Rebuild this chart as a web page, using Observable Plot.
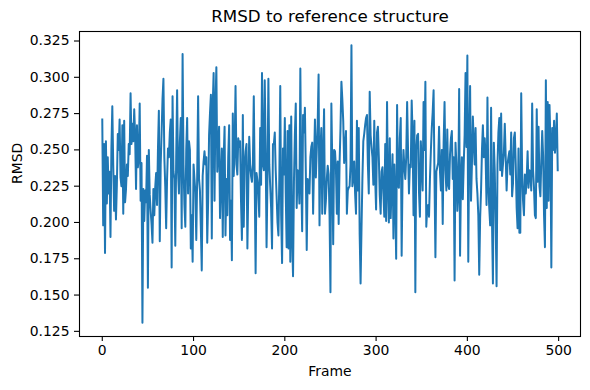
<!DOCTYPE html>
<html><head><meta charset="utf-8">
<script src="https://cdn.jsdelivr.net/npm/d3@7"></script>
<script src="https://cdn.jsdelivr.net/npm/@observablehq/plot@0.6"></script>
<style>body{margin:0;background:#fff;}</style>
</head><body><div id="chart"></div>
<script>
const title = "RMSD to reference structure";
const xLabel = "Frame";
const yLabel = "RMSD";
const xTicks = [0, 100, 200, 300, 400, 500];
const yTicks = [0.125, 0.150, 0.175, 0.200, 0.225, 0.250, 0.275, 0.300, 0.325];
const rmsd = [
0.271,0.198,0.254,0.179,0.256,0.213,0.245,0.220,0.235,0.190,
0.251,0.280,0.240,0.208,0.232,0.202,0.226,0.261,0.250,0.271,
0.231,0.225,0.267,0.206,0.270,0.214,0.223,0.240,0.232,0.254,
0.247,0.289,0.254,0.268,0.256,0.278,0.260,0.223,0.267,0.238,
0.245,0.282,0.215,0.241,0.131,0.223,0.201,0.222,0.214,0.246,
0.155,0.250,0.219,0.208,0.199,0.186,0.223,0.205,0.224,0.234,
0.212,0.250,0.277,0.187,0.240,0.262,0.285,0.299,0.245,0.225,
0.196,0.230,0.251,0.245,0.262,0.271,0.169,0.287,0.235,0.230,
0.184,0.245,0.291,0.235,0.220,0.255,0.272,0.196,0.316,0.240,
0.212,0.197,0.250,0.272,0.220,0.256,0.250,0.182,0.205,0.173,
0.240,0.230,0.221,0.188,0.232,0.287,0.230,0.222,0.196,0.167,
0.232,0.242,0.249,0.240,0.245,0.186,0.215,0.260,0.275,0.288,
0.189,0.280,0.303,0.215,0.280,0.307,0.235,0.250,0.266,0.203,
0.230,0.251,0.190,0.244,0.266,0.191,0.230,0.205,0.245,0.267,
0.188,0.215,0.174,0.275,0.232,0.250,0.294,0.240,0.233,0.258,
0.252,0.256,0.215,0.188,0.274,0.197,0.240,0.249,0.254,0.182,
0.225,0.259,0.240,0.232,0.228,0.240,0.287,0.230,0.165,0.234,
0.229,0.220,0.204,0.265,0.226,0.303,0.240,0.236,0.298,0.250,
0.183,0.230,0.299,0.240,0.225,0.210,0.182,0.254,0.254,0.262,
0.236,0.218,0.200,0.191,0.232,0.294,0.205,0.172,0.251,0.233,
0.272,0.220,0.183,0.263,0.182,0.267,0.173,0.273,0.190,0.163,
0.228,0.260,0.282,0.210,0.236,0.232,0.213,0.306,0.230,0.194,
0.274,0.262,0.279,0.235,0.181,0.230,0.226,0.220,0.245,0.252,
0.255,0.206,0.240,0.271,0.231,0.250,0.268,0.302,0.198,0.250,
0.265,0.206,0.245,0.278,0.206,0.215,0.230,0.239,0.233,0.205,
0.152,0.282,0.240,0.185,0.250,0.249,0.237,0.206,0.242,0.199,
0.241,0.265,0.297,0.285,0.270,0.241,0.252,0.263,0.206,0.222,
0.224,0.225,0.240,0.322,0.225,0.230,0.242,0.220,0.206,0.270,
0.222,0.265,0.192,0.158,0.195,0.230,0.256,0.261,0.267,0.272,
0.274,0.240,0.220,0.290,0.260,0.252,0.245,0.226,0.270,0.230,
0.209,0.262,0.266,0.245,0.219,0.206,0.235,0.238,0.220,0.204,
0.254,0.201,0.283,0.225,0.200,0.258,0.203,0.225,0.247,0.189,
0.240,0.215,0.175,0.281,0.225,0.224,0.258,0.272,0.177,0.232,
0.250,0.238,0.230,0.245,0.283,0.250,0.220,0.240,0.238,0.284,
0.260,0.205,0.270,0.152,0.250,0.260,0.261,0.221,0.204,0.256,
0.240,0.222,0.283,0.250,0.297,0.197,0.210,0.212,0.204,0.230,
0.249,0.265,0.276,0.291,0.230,0.176,0.235,0.238,0.241,0.266,
0.235,0.222,0.250,0.199,0.255,0.283,0.236,0.222,0.264,0.226,
0.223,0.247,0.258,0.263,0.230,0.245,0.160,0.255,0.240,0.208,
0.220,0.292,0.177,0.230,0.245,0.216,0.240,0.260,0.303,0.252,
0.315,0.173,0.255,0.294,0.215,0.240,0.273,0.255,0.240,0.265,
0.230,0.220,0.205,0.164,0.203,0.222,0.250,0.267,0.245,0.258,
0.245,0.212,0.286,0.225,0.210,0.198,0.279,0.200,0.158,0.255,
0.236,0.200,0.156,0.240,0.262,0.272,0.236,0.275,0.232,0.240,
0.248,0.268,0.245,0.222,0.240,0.245,0.249,0.233,0.262,0.218,
0.227,0.258,0.262,0.240,0.210,0.196,0.251,0.193,0.193,0.289,
0.235,0.215,0.205,0.233,0.220,0.230,0.249,0.224,0.236,0.235,
0.222,0.282,0.236,0.224,0.205,0.203,0.278,0.228,0.266,0.225,
0.218,0.242,0.263,0.246,0.205,0.183,0.298,0.210,0.283,0.215,
0.281,0.255,0.169,0.265,0.250,0.270,0.248,0.257,0.275,0.236
];
const frames = rmsd.map((_, i) => i);

// matplotlib-like 5% data margins
const [x0, x1] = d3.extent(frames);
const [y0, y1] = d3.extent(rmsd);
const xm = 0.05 * (x1 - x0), ym = 0.05 * (y1 - y0);

const chart = Plot.plot({
  width: 590,
  height: 390,
  marginLeft: 79,
  marginRight: 10,
  marginTop: 31,
  marginBottom: 54,
  style: {fontFamily: "DejaVu Sans", fontSize: "13.9px", background: "#fff", color: "#000"},
  x: {domain: [x0 - xm, x1 + xm]},
  y: {domain: [y0 - ym, y1 + ym]},
  marks: [
    Plot.lineY(rmsd, {x: (d, i) => frames[i], y: d => d, stroke: "#1f77b4", strokeWidth: 2, strokeLinejoin: "round", strokeLinecap: "square"}),
    Plot.frame({stroke: "#000", strokeWidth: 1.1}),
    Plot.axisX({ticks: xTicks, tickSize: 5, tickPadding: 4, tickFormat: d => String(d), label: null, fontSize: 13.9, strokeWidth: 1.1}),
    Plot.axisY({ticks: yTicks, tickSize: 5, tickPadding: 5, tickFormat: d3.format(".3f"), label: null, fontSize: 13.9, strokeWidth: 1.1}),
    Plot.text([xLabel], {text: d => d, frameAnchor: "bottom", dy: 35, fontSize: 13.9, lineAnchor: "middle"}),
    Plot.text([yLabel], {text: d => d, frameAnchor: "left", dx: -62, rotate: -90, fontSize: 13.9, lineAnchor: "middle"}),
    Plot.text([title], {text: d => d, frameAnchor: "top", dy: -15, fontSize: 16.7, lineAnchor: "middle"})
  ]
});
document.getElementById("chart").appendChild(chart);
</script>
</body></html>
